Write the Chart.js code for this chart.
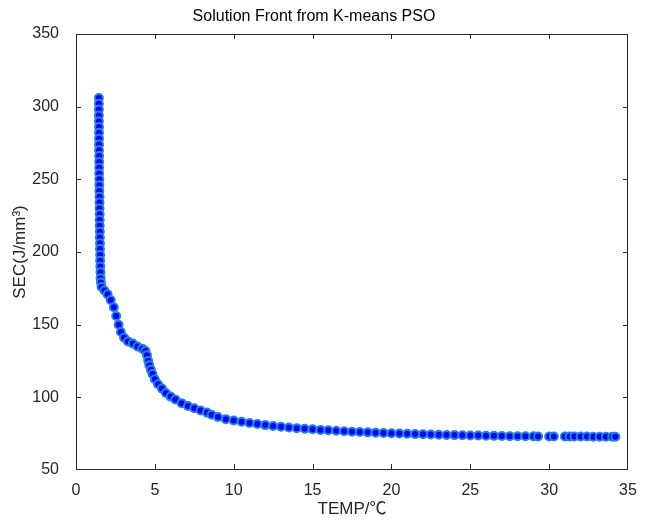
<!DOCTYPE html>
<html>
<head>
<meta charset="utf-8">
<script src="https://cdn.jsdelivr.net/npm/chart.js@4"></script>
<style>
  html, body { margin: 0; padding: 0; background: #fff; }
  #wrap { width: 648px; height: 520px; }
</style>
</head>
<body>
<div id="wrap"><canvas id="c" width="648" height="520"></canvas></div>
<script>
// Pareto front points (TEMP in ℃, SEC in J/mm³)
const tempVals = [
  1.45, 1.45, 1.45, 1.45, 1.45, 1.46, 1.46, 1.46, 1.46, 1.46,
  1.47, 1.47, 1.47, 1.47, 1.48, 1.48, 1.48, 1.49, 1.49, 1.49,
  1.50, 1.50, 1.50, 1.51, 1.51, 1.52, 1.52, 1.53, 1.53, 1.54,
  1.55, 1.56, 1.58,
  1.62, 1.80, 2.00, 2.20, 2.40, 2.55, 2.70, 2.85, 3.05, 3.30,
  3.60, 3.90, 4.20, 4.40, 4.50, 4.58, 4.65, 4.75, 4.85, 5.00,
  5.20, 5.45, 5.70, 6.00, 6.30, 6.70, 7.10, 7.50, 7.90, 8.30,
  8.60, 9.00, 9.50, 10.0, 10.5, 11.0, 11.5, 12.0, 12.5, 13.0,
  13.5, 14.0, 14.5, 15.0, 15.5, 16.0, 16.5, 17.0, 17.5, 18.0,
  18.5, 19.0, 19.5, 20.0, 20.5, 21.0, 21.5, 22.0, 22.5, 23.0,
  23.5, 24.0, 24.5, 25.0, 25.5, 26.0, 26.5, 27.0, 27.5, 28.0,
  28.5, 29.0, 29.3, 30.0, 30.3, 31.0, 31.3, 31.6, 32.0, 32.4,
  32.8, 33.2, 33.6, 34.0, 34.2
];
const secVals = [
  306, 302, 298, 294, 290, 286, 282, 278, 274, 270,
  266, 262, 258, 254, 250, 246, 242, 238, 234, 230,
  226, 222, 218, 214, 210, 206, 202, 198, 194, 190,
  186, 182, 179,
  176, 173.5, 171, 167, 162, 156, 150, 145, 141, 138.5,
  137, 135, 133.5, 132, 129, 125, 122, 119, 116, 112.5,
  109, 106, 103, 100.5, 98.5, 96, 94, 92.5, 91, 89.5,
  88, 86.5, 85, 84, 83.2, 82.4, 81.6, 80.9, 80.3, 79.8,
  79.3, 78.8, 78.4, 78, 77.6, 77.3, 77, 76.7, 76.4, 76.1,
  75.9, 75.7, 75.5, 75.3, 75.1, 74.9, 74.7, 74.6, 74.4, 74.3,
  74.1, 74, 73.9, 73.8, 73.7, 73.6, 73.5, 73.4, 73.3, 73.3,
  73.2, 73.2, 73.1, 73.1, 73.1, 73, 73, 73, 73, 73,
  72.9, 72.9, 72.9, 72.9, 72.9
];
const xTicks = [0, 5, 10, 15, 20, 25, 30, 35];
const yTicks = [50, 100, 150, 200, 250, 300, 350];

const points = tempVals.map((t, i) => ({ x: t, y: secVals[i] }));
const FONT = '"Liberation Sans", Arial, Helvetica, sans-serif';
const FONT_CJK = '"Liberation Sans", "Noto Sans CJK SC", sans-serif';
const AXIS_COLOR = '#262626';

// MATLAB style box with inward ticks on all four sides (drawn as 1px rects)
const boxPlugin = {
  id: 'box',
  afterDraw(chart) {
    const { ctx, chartArea: a, scales } = chart;
    const L = Math.round(a.left), R = Math.round(a.right) - 1;
    const T = Math.round(a.top), B = Math.round(a.bottom) - 1;
    const len = 5;
    ctx.save();
    ctx.fillStyle = AXIS_COLOR;
    ctx.fillRect(L, T, R - L + 1, 1);
    ctx.fillRect(L, B, R - L + 1, 1);
    ctx.fillRect(L, T, 1, B - T + 1);
    ctx.fillRect(R, T, 1, B - T + 1);
    xTicks.forEach(v => {
      const px = Math.round(scales.x.getPixelForValue(v));
      ctx.fillRect(Math.min(px, R), B - len, 1, len);
      ctx.fillRect(Math.min(px, R), T, 1, len);
    });
    yTicks.forEach(v => {
      const py = Math.round(scales.y.getPixelForValue(v));
      ctx.fillRect(L, Math.min(py, B), len, 1);
      ctx.fillRect(R - len + 1, Math.min(py, B), len, 1);
    });
    ctx.restore();
  }
};

new Chart(document.getElementById('c'), {
  type: 'scatter',
  data: {
    datasets: [{
      data: points,
      pointRadius: 4,
      pointHoverRadius: 4,
      pointBackgroundColor: '#0000ff',
      pointBorderColor: '#2a80d8',
      pointBorderWidth: 2
    }]
  },
  options: {
    responsive: false,
    animation: false,
    layout: { padding: { left: 0, right: 20, top: 0, bottom: 0 } },
    plugins: {
      legend: { display: false },
      tooltip: { enabled: false },
      title: {
        display: true,
        text: 'Solution Front from K-means PSO',
        color: '#000',
        font: { family: FONT, size: 16, weight: 'normal' },
        padding: { top: 7, bottom: 7.8 }
      }
    },
    scales: {
      x: {
        type: 'linear',
        min: 0, max: 35,
        afterBuildTicks: s => { s.ticks = xTicks.map(v => ({ value: v })); },
        afterFit: s => { s.height = 50; },
        grid: { display: false },
        border: { display: false },
        ticks: { color: AXIS_COLOR, font: { family: FONT, size: 16 }, padding: 3, maxRotation: 0 },
        title: {
          display: true, text: 'TEMP/℃', color: AXIS_COLOR,
          font: { family: FONT_CJK, size: 17 }, padding: { top: 2, bottom: 0 }
        }
      },
      y: {
        type: 'linear',
        min: 50, max: 350,
        afterBuildTicks: s => { s.ticks = yTicks.map(v => ({ value: v })); },
        afterFit: s => { s.width = 76; },
        grid: { display: false },
        border: { display: false },
        ticks: { color: AXIS_COLOR, font: { family: FONT, size: 16 }, padding: 9 },
        title: {
          display: true, text: 'SEC(J/mm³)', color: AXIS_COLOR,
          font: { family: FONT, size: 17 }, padding: { top: 10, bottom: 0 }
        }
      }
    }
  },
  plugins: [boxPlugin]
});
</script>
</body>
</html>
